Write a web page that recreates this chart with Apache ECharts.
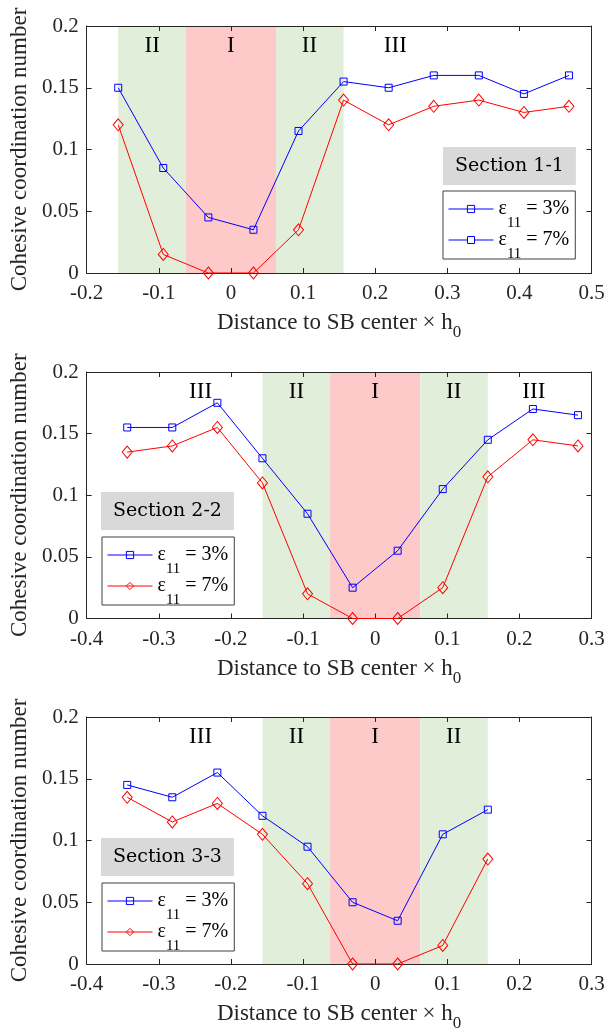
<!DOCTYPE html>
<html>
<head>
<meta charset="utf-8">
<script src="https://cdn.jsdelivr.net/npm/echarts@6/dist/echarts.min.js"></script>
<style>
  html, body { margin: 0; padding: 0; background: #fff; }
  #chart { width: 612px; height: 1034px; }
</style>
</head>
<body>
<div id="chart"></div>
<script>
// positions of the sampling points (distance to SB center x h0)
const xSec1 = [-0.15625, -0.09375, -0.03125, 0.03125, 0.09375, 0.15625, 0.21875, 0.28125, 0.34375, 0.40625, 0.46875];
const xSec2 = [-0.34375, -0.28125, -0.21875, -0.15625, -0.09375, -0.03125, 0.03125, 0.09375, 0.15625, 0.21875, 0.28125];
const xSec3 = [-0.34375, -0.28125, -0.21875, -0.15625, -0.09375, -0.03125, 0.03125, 0.09375, 0.15625];

// cohesive coordination number, eps11 = 3% / 7%
const sec1e3 = [0.15, 0.085, 0.045, 0.035, 0.115, 0.155, 0.15, 0.16, 0.16, 0.145, 0.16];
const sec1e7 = [0.12, 0.015, 0, 0, 0.035, 0.14, 0.12, 0.135, 0.14, 0.13, 0.135];
const sec2e3 = [0.155, 0.155, 0.175, 0.13, 0.085, 0.025, 0.055, 0.105, 0.145, 0.17, 0.165];
const sec2e7 = [0.135, 0.14, 0.155, 0.11, 0.02, 0, 0, 0.025, 0.115, 0.145, 0.14];
const sec3e3 = [0.145, 0.135, 0.155, 0.12, 0.095, 0.05, 0.035, 0.105, 0.125];
const sec3e7 = [0.135, 0.115, 0.13, 0.105, 0.065, 0, 0, 0.015, 0.085];

// zone bands (II | I | II) and zone labels
const bandEdges = [-0.15625, -0.0625, 0.0625, 0.15625];
const bandNames = ["II", "I", "II"];
const zone1Names = ["II", "I", "II", "III"];
const zone1X = [-0.109, 0, 0.109, 0.228];
const zone2Names = ["III", "II", "I", "II", "III"];
const zone2X = [-0.242, -0.109, 0, 0.109, 0.22];
const zone3Names = ["III", "II", "I", "II"];
const zone3X = [-0.242, -0.109, 0, 0.109];
const zoneY = 0.1835;

const sectionNames = ["Section 1-1", "Section 2-2", "Section 3-3"];
const seriesNames = ["ε11 = 3%", "ε11 = 7%"];
const xRanges = [[-0.2, 0.5], [-0.4, 0.3], [-0.4, 0.3]];

const serif = '"Liberation Serif", "Times New Roman", serif';
const axisColor = "#262626";
const blue = "#0000ff";
const red = "#ff0000";
const green = "#e1eed9";
const pink = "#fdc9c9";

const grids = [
  { left: 86.5, top: 26, width: 505, height: 247 },
  { left: 86.5, top: 372, width: 505, height: 246.5 },
  { left: 86.5, top: 717, width: 505, height: 247 },
];
const titlePos = [[443, 147], [101, 492], [101, 838]];
const legendPos = [[443, 191], [102, 537], [102, 883]];

const panels = [
  { xs: xSec1, e3: sec1e3, e7: sec1e7, zNames: zone1Names, zX: zone1X },
  { xs: xSec2, e3: sec2e3, e7: sec2e7, zNames: zone2Names, zX: zone2X },
  { xs: xSec3, e3: sec3e3, e7: sec3e7, zNames: zone3Names, zX: zone3X },
];

const xAxes = [];
const yAxes = [];
const series = [];
const titles = [];
const legends = [];

panels.forEach((p, i) => {
  const lineStyle = { color: axisColor, width: 1 };
  const tick = { inside: true, length: 5, lineStyle: lineStyle };
  // bottom + top x axes (box with ticks)
  xAxes.push({
    gridIndex: i, type: "value", min: xRanges[i][0], max: xRanges[i][1], interval: 0.1,
    position: "bottom", z: 3,
    axisLine: { show: true, onZero: false, lineStyle: lineStyle },
    axisTick: tick,
    splitLine: { show: false },
    axisLabel: { fontFamily: serif, fontSize: 21, color: axisColor, margin: 10 },
    name: "{m|Distance to SB center × h}{s|0}",
    nameLocation: "middle",
    nameGap: 31.5,
    nameTextStyle: {
      fontFamily: serif, color: axisColor,
      rich: {
        // tall main line, subscript pushed to its bottom
        m: { fontFamily: serif, fontSize: 23, lineHeight: 37, color: axisColor },
        s: { fontFamily: serif, fontSize: 17, verticalAlign: "bottom", color: axisColor },
      },
    },
  });
  xAxes.push({
    gridIndex: i, type: "value", min: xRanges[i][0], max: xRanges[i][1], interval: 0.1,
    position: "top", z: 3,
    axisLine: { show: true, onZero: false, lineStyle: lineStyle },
    axisTick: tick,
    splitLine: { show: false },
    axisLabel: { show: false },
  });
  // left + right y axes
  yAxes.push({
    gridIndex: i, type: "value", min: 0, max: 0.2, interval: 0.05,
    position: "left", z: 3,
    axisLine: { show: true, onZero: false, lineStyle: lineStyle },
    axisTick: tick,
    splitLine: { show: false },
    axisLabel: { fontFamily: serif, fontSize: 21, color: axisColor, margin: 8 },
    name: "Cohesive coordination number",
    nameLocation: "middle",
    nameGap: 50,
    nameTextStyle: { fontFamily: serif, fontSize: 23, color: axisColor },
  });
  yAxes.push({
    gridIndex: i, type: "value", min: 0, max: 0.2, interval: 0.05,
    position: "right", z: 3,
    axisLine: { show: true, onZero: false, lineStyle: lineStyle },
    axisTick: tick,
    splitLine: { show: false },
    axisLabel: { show: false },
  });

  const bands = [];
  for (let b = 0; b < bandNames.length; b++) {
    bands.push([
      { xAxis: bandEdges[b], itemStyle: { color: bandNames[b] === "I" ? pink : green } },
      { xAxis: bandEdges[b + 1] },
    ]);
  }

  series.push({
    name: seriesNames[0],
    type: "line",
    xAxisIndex: 2 * i,
    yAxisIndex: 2 * i,
    data: p.xs.map((x, k) => [x, p.e3[k]]),
    symbol: "rect",
    symbolSize: 7,
    lineStyle: { color: blue, width: 1 },
    itemStyle: { color: "rgba(0,0,0,0)", borderColor: blue, borderWidth: 1 },
    emphasis: { disabled: true },
    markArea: { silent: true, data: bands },
    markPoint: {
      silent: true,
      symbol: "circle",
      symbolSize: 1,
      itemStyle: { color: "rgba(0,0,0,0)" },
      label: { show: true, position: "inside", formatter: "{b}", fontFamily: serif, fontSize: 23, color: "#000" },
      data: p.zNames.map((n, k) => ({ name: n, coord: [p.zX[k], zoneY] })),
    },
  });
  series.push({
    name: seriesNames[1],
    type: "line",
    xAxisIndex: 2 * i,
    yAxisIndex: 2 * i,
    data: p.xs.map((x, k) => [x, p.e7[k]]),
    symbol: "diamond",
    symbolSize: [10, 12],
    lineStyle: { color: red, width: 1 },
    itemStyle: { color: "rgba(0,0,0,0)", borderColor: red, borderWidth: 1 },
    emphasis: { disabled: true },
  });

  titles.push({
    text: sectionNames[i],
    left: titlePos[i][0],
    top: titlePos[i][1],
    backgroundColor: "#d9d9d9",
    padding: [8, 12],
    textStyle: { fontFamily: '"DejaVu Serif", serif', fontSize: 19, fontWeight: "normal", color: "#000", lineHeight: 22 },
  });

  // section 1-1 legend shows a blue square on both entries
  const second = i === 0
    ? { name: seriesNames[1], icon: "path://M0,3.5L19,3.5M19,0L26,0L26,7L19,7ZM26,3.5L45,3.5",
        itemStyle: { color: "rgba(0,0,0,0)", borderColor: blue, borderWidth: 1 } }
    : { name: seriesNames[1] };
  legends.push({
    data: [{ name: seriesNames[0] }, second],
    orient: "vertical",
    left: legendPos[i][0],
    top: legendPos[i][1],
    itemWidth: 45,
    itemHeight: 9,
    itemGap: -0.5,
    padding: [8, 6, -2.5, 5],
    borderColor: "#404040",
    borderWidth: 1,
    backgroundColor: "#fff",
    selectedMode: false,
    itemStyle: { borderWidth: 1 },
    lineStyle: { width: 1 },
    formatter: (n) => "{m|ε}{s|11}{m| = " + n.split("= ")[1] + "}",
    textStyle: {
      fontFamily: serif, color: "#000",
      rich: {
        m: { fontFamily: serif, fontSize: 20, lineHeight: 43, color: "#000" },
        s: { fontFamily: serif, fontSize: 15, verticalAlign: "bottom", color: "#000" },
      },
    },
  });
});

const chart = echarts.init(document.getElementById("chart"), null, { renderer: "canvas" });
chart.setOption({
  animation: false,
  backgroundColor: "#fff",
  grid: grids,
  title: titles,
  legend: legends,
  xAxis: xAxes,
  yAxis: yAxes,
  series: series,
});
</script>
</body>
</html>
